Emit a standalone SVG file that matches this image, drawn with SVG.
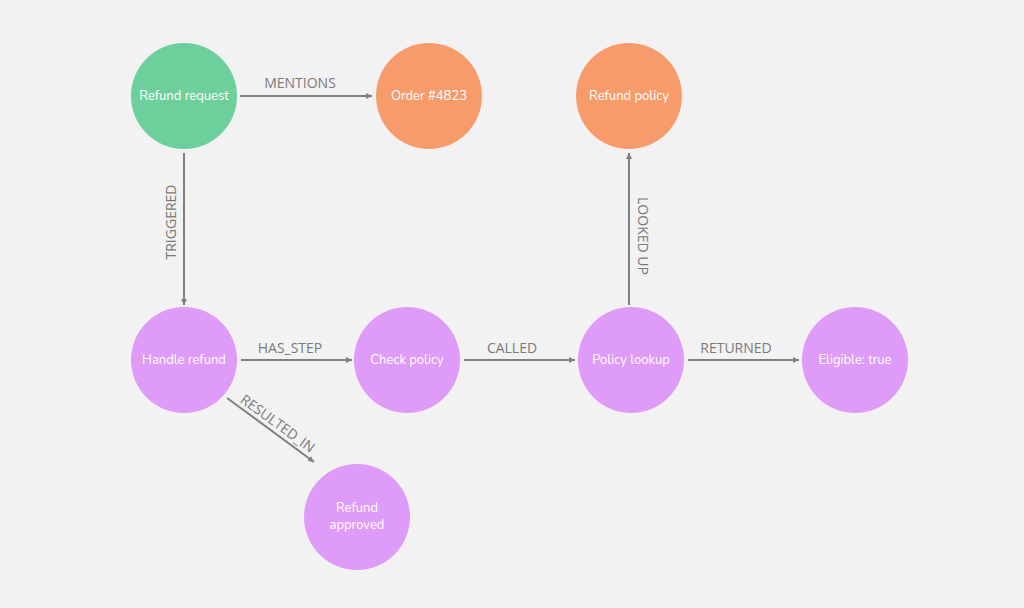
<svg xmlns="http://www.w3.org/2000/svg" width="1024" height="608" viewBox="0 0 1024 608">
<style>
.n text{font-family:"Nunito","Open Sans","Liberation Sans",sans-serif;font-size:13px;fill:#fff;text-anchor:middle;dominant-baseline:central}
.g{fill:#6dcf9c}.o{fill:#f89b6b}.p{fill:#df9bf8}
.e line{stroke:#7f7f7f;stroke-width:2;marker-end:url(#a)}
.e text{font-family:"Open Sans","Liberation Sans",sans-serif;font-size:14px;fill:#7a7a7a;text-anchor:middle;dominant-baseline:central}
</style>
<defs><marker id="a" viewBox="0 0 10 10" refX="10" refY="5" markerWidth="6" markerHeight="6" markerUnits="userSpaceOnUse" orient="auto"><path d="M0,0L10,5L0,10z" fill="#7f7f7f"/></marker></defs>
<rect width="1024" height="608" fill="#f2f2f2"/>
<g class="e" id="edges">
<line x1="240" y1="96" x2="372" y2="96"/><text x="300" y="82">MENTIONS</text>
<line x1="184" y1="153" x2="184" y2="305"/><text transform="translate(170,222) rotate(-90)">TRIGGERED</text>
<line x1="241" y1="360" x2="352" y2="360"/><text x="290" y="347">HAS_STEP</text>
<line x1="464" y1="360" x2="575" y2="360"/><text x="512" y="347">CALLED</text>
<line x1="688" y1="360" x2="799" y2="360"/><text x="736" y="347">RETURNED</text>
<line x1="629" y1="305" x2="629" y2="153"/><text transform="translate(643,236) rotate(90)">LOOKED UP</text>
<line x1="227" y1="398" x2="314" y2="462"/><text transform="translate(278,423) rotate(36)">RESULTED_IN</text>
</g>
<g class="n" id="n1"><circle class="g" cx="184" cy="96" r="53"/><text x="184" y="96">Refund request</text></g>
<g class="n" id="n2"><circle class="o" cx="429" cy="96" r="53"/><text x="429" y="96">Order #4823</text></g>
<g class="n" id="n3"><circle class="o" cx="629" cy="96" r="53"/><text x="629" y="96">Refund policy</text></g>
<g class="n" id="n4"><circle class="p" cx="184" cy="360" r="53"/><text x="184" y="360">Handle refund</text></g>
<g class="n" id="n5"><circle class="p" cx="407" cy="360" r="53"/><text x="407" y="360">Check policy</text></g>
<g class="n" id="n6"><circle class="p" cx="631" cy="360" r="53"/><text x="631" y="360">Policy lookup</text></g>
<g class="n" id="n7"><circle class="p" cx="855" cy="360" r="53"/><text x="855" y="360">Eligible: true</text></g>
<g class="n" id="n8"><circle class="p" cx="357" cy="517" r="53"/><text x="357" y="508">Refund</text><text x="357" y="525">approved</text></g>
</svg>
